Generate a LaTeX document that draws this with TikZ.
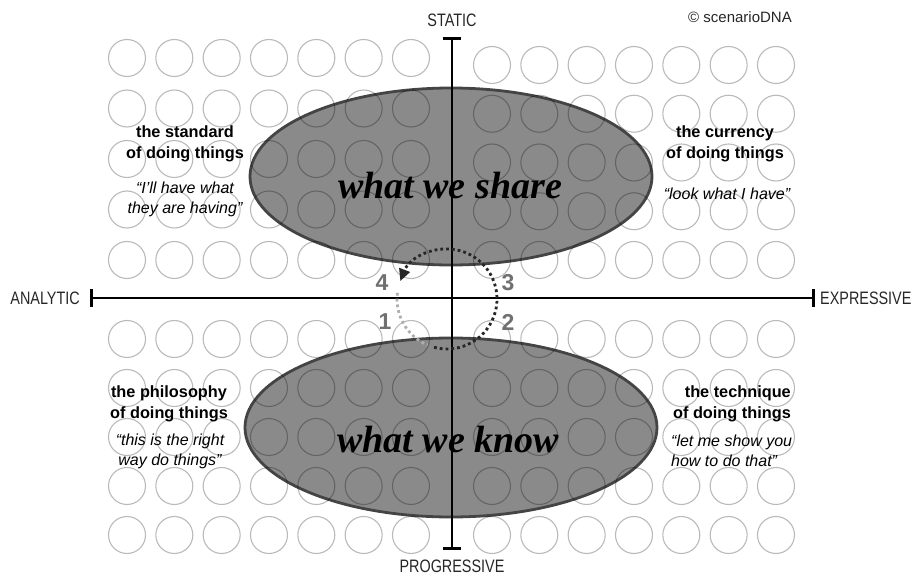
\documentclass[tikz,border=0pt]{standalone}
\usepackage{fontspec}
\setmainfont{Liberation Sans}
\newfontfamily\blobfont{Liberation Serif}
\newfontfamily\axisfont[FakeStretch=0.8]{Liberation Sans}
\usetikzlibrary{arrows.meta,positioning,shapes.geometric}
\definecolor{blobFill}{RGB}{138,138,138}
\definecolor{blobEdge}{RGB}{68,68,68}
\definecolor{numGray}{RGB}{112,112,112}
\definecolor{loopFaint}{RGB}{175,175,175}

\begin{document}
\begin{tikzpicture}[
    x=1pt, y=-1pt,
    blob/.style={
        ellipse, draw=blobEdge, fill=blobFill, line width=2.8pt, inner sep=0pt
    },
    blobtext/.style={
        font=\blobfont\bfseries\itshape\fontsize{38}{40}\selectfont, inner sep=0pt
    },
    ring/.style={draw=black, draw opacity=0.27, line width=1.1pt},
    axis/.style={line width=2.8pt, {Bar[width=18pt]}-{Bar[width=18pt]}},
    axislabel/.style={font=\axisfont\fontsize{18}{20}\selectfont, text=black!85, inner sep=0pt},
    head/.style={font=\bfseries\fontsize{16.3}{21}\selectfont, align=center, inner sep=0pt},
    quote/.style={font=\itshape\fontsize{16}{20}\selectfont, align=center, inner sep=0pt},
    num/.style={font=\bfseries\fontsize{23}{25}\selectfont, text=numGray, inner sep=0pt},
    loopline/.style={line width=2.8pt, dash pattern=on 2.8pt off 3pt}
]
    \useasboundingbox (0,0) rectangle (919,577);

    % The two shared / known fields
    \node [blob, minimum width=402pt, minimum height=177pt] (share) at (451,176.5) {};
    \node [blob, minimum width=412pt, minimum height=179pt] (know) at (451,427.5) {};

    % Grid of rings, one block per quadrant
    \foreach \i in {0,...,6} {
        \foreach \j in {0,...,4} {
            \draw [ring] (127+47.33*\i, 58+50.5*\j) circle [radius=18.5pt];
            \draw [ring] (492+47.33*\i, 65+48.75*\j) circle [radius=18.5pt];
            \draw [ring] (127+47.33*\i, 339+49*\j) circle [radius=18.5pt];
            \draw [ring] (492+47.33*\i, 339+49*\j) circle [radius=18.5pt];
        }
    }

    % Axes
    \coordinate (analytic) at (90,298);
    \coordinate (expressive) at (815,298);
    \coordinate (static) at (452,37);
    \coordinate (progressive) at (452,550);
    \draw [axis] (analytic) -- (expressive);
    \draw [axis] (static) -- (progressive);

    \node [axislabel, left=10pt of analytic] (lanalytic) {ANALYTIC};
    \node [axislabel, right=5pt of expressive] (lexpressive) {EXPRESSIVE};
    \node [axislabel, above=10pt of static] (lstatic) {STATIC};
    \node [axislabel, below=10pt of progressive] (lprogressive) {PROGRESSIVE};
    \node [font=\fontsize{15}{17}\selectfont, text=black!85, anchor=east, inner sep=0pt] (copy) at (792,17) {© scenarioDNA};

    % Dotted cycle round the centre
    \coordinate (loop) at (447,299);
    \draw [loopline, draw=loopFaint] (loop) ++(173:50pt) arc [start angle=173, end angle=247, radius=50pt];
    \draw [loopline, draw=black!85, -{Triangle[length=12pt, width=11pt]}]
        (loop) ++(-105:50pt) arc [start angle=-105, end angle=159, radius=50pt];

    \node [num] (n1) at (385,322) {1};
    \node [num] (n2) at (508,322) {2};
    \node [num] (n3) at (508,283) {3};
    \node [num] (n4) at (382,283) {4};

    % Field titles
    \node [blobtext] (tshare) at (450,186) {what we share};
    \node [blobtext] (tknow) at (448,440) {what we know};

    % Quadrant texts
    \node [head] (hstandard) at (185,144) {the standard\\of doing things};
    \node [quote] (qstandard) at (185,199) {“I’ll have what\\they are having”};
    \node [head] (hcurrency) at (725,144) {the currency\\of doing things};
    \node [quote] (qcurrency) at (727,194) {“look what I have”};
    \node [head] (hphilosophy) at (169,404) {the philosophy\\of doing things};
    \node [quote] (qphilosophy) at (170,451) {“this is the right\\way do things”};
    \node [head, align=right, anchor=east] (htechnique) at (791,404) {the technique\\of doing things};
    \node [quote, align=left, anchor=west] (qtechnique) at (671,451) {“let me show you\\how to do that”};

\end{tikzpicture}
\end{document}
